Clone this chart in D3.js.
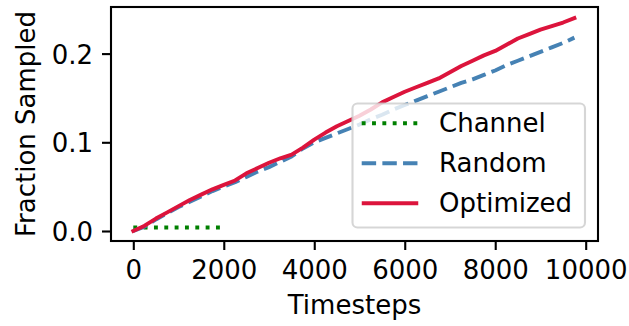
<!DOCTYPE html>
<html>
<head>
<meta charset="utf-8">
<script src="https://cdn.jsdelivr.net/npm/d3@7"></script>
<style>
  body { margin: 0; background: #fff; }
  text { font-family: "DejaVu Sans", sans-serif; fill: #000; }
</style>
</head>
<body>
<script>
var w = 629,
    h = 326;
    fontSize = 26;
    lineWidth = 3.9;

// data
const timesteps = d3.range(0, 10000, 250);

const optimized = [0, 0.006, 0.014, 0.021, 0.028, 0.035, 0.041, 0.047, 0.052, 0.057,
    0.065, 0.071, 0.077, 0.082, 0.086, 0.094, 0.103, 0.111, 0.118, 0.124,
    0.130, 0.137, 0.145, 0.151, 0.157, 0.162, 0.167, 0.172, 0.179, 0.186,
    0.192, 0.198, 0.203, 0.210, 0.217, 0.222, 0.227, 0.231, 0.235, 0.240];

const random = [0, 0.005, 0.013, 0.020, 0.027, 0.033, 0.039, 0.045, 0.050, 0.055,
    0.061, 0.067, 0.072, 0.078, 0.084, 0.093, 0.100, 0.105, 0.110, 0.115,
    0.120, 0.126, 0.131, 0.137, 0.142, 0.147, 0.152, 0.157, 0.162, 0.167,
    0.171, 0.176, 0.181, 0.187, 0.192, 0.197, 0.202, 0.207, 0.212, 0.218];

const channelSteps = [0, 500, 1000, 1500, 2000];
const channel = [0.004, 0.004, 0.004, 0.004, 0.004];

const xTicks = [0, 2000, 4000, 6000, 8000, 10000];
const yTicks = [0.0, 0.1, 0.2];

const seriesNames = ["Channel", "Random", "Optimized"];
const seriesColors = ["green", "steelblue", "crimson"];
const seriesDashes = [
    (lineWidth * 1) + "," + (lineWidth * 1.65),
    (lineWidth * 3.7) + "," + (lineWidth * 1.6),
    null];

// plot box
var box = {left: 111, right: 598, top: 7, bottom: 241};

var x = d3.scaleLinear().domain([0, 10000]).range([133.3, 585.7]);
var y = d3.scaleLinear().domain([0, 0.2]).range([231, 53.6]);

var svg = d3.select("body").append("svg")
    .attr("width", w)
    .attr("height", h);

const line = d3.line()
    .x((d) => x(d[0]))
    .y((d) => y(d[1]));

const series = [
    d3.zip(channelSteps, channel),
    d3.zip(timesteps, random),
    d3.zip(timesteps, optimized)
];

svg.selectAll("path.series")
    .data(series)
    .enter().append("path")
    .attr("class", "series")
    .attr("d", line)
    .attr("fill", "none")
    .attr("stroke", (d, i) => seriesColors[i])
    .attr("stroke-width", lineWidth)
    .attr("stroke-dasharray", (d, i) => seriesDashes[i])
    .attr("stroke-linecap", (d, i) => seriesDashes[i] ? "butt" : "square")
    .attr("stroke-linejoin", "round");

// spines
svg.append("rect")
    .attr("x", box.left)
    .attr("y", box.top)
    .attr("width", box.right - box.left)
    .attr("height", box.bottom - box.top)
    .attr("fill", "none")
    .attr("stroke", "#000")
    .attr("stroke-width", 2.1);

// x axis
var xAxis = svg.append("g")
    .attr("transform", "translate(0," + box.bottom + ")")
    .call(d3.axisBottom(x).tickValues(xTicks).tickSize(9).tickPadding(9).tickFormat(d3.format("d")));
xAxis.select(".domain").remove();
xAxis.selectAll(".tick line").attr("stroke-width", 2.1);
xAxis.selectAll(".tick text")
    .attr("font-size", fontSize)
    .attr("font-family", "DejaVu Sans")
    .attr("dy", null)
    .attr("y", 38);

// y axis
var yAxis = svg.append("g")
    .attr("transform", "translate(" + box.left + ",0)")
    .call(d3.axisLeft(y).tickValues(yTicks).tickSize(9).tickPadding(9).tickFormat(d3.format(".1f")));
yAxis.select(".domain").remove();
yAxis.selectAll(".tick line").attr("stroke-width", 2.1);
yAxis.selectAll(".tick text")
    .attr("font-size", fontSize)
    .attr("font-family", "DejaVu Sans")
    .attr("dy", null)
    .attr("y", 9.5);

svg.append("text")
    .attr("x", (box.left + box.right) / 2)
    .attr("y", 314)
    .attr("text-anchor", "middle")
    .attr("font-size", fontSize)
    .text("Timesteps");

svg.append("text")
    .attr("transform", "translate(35," + ((box.top + box.bottom) / 2) + ") rotate(-90)")
    .attr("text-anchor", "middle")
    .attr("font-size", fontSize)
    .text("Fraction Sampled");

// legend
var legend = svg.append("g");

legend.append("rect")
    .attr("x", 352.5)
    .attr("y", 103.5)
    .attr("width", 232.5)
    .attr("height", 124)
    .attr("rx", 5)
    .attr("fill", "#fff")
    .attr("fill-opacity", 0.8)
    .attr("stroke", "#ccc")
    .attr("stroke-opacity", 0.8)
    .attr("stroke-width", 2.1);

var rows = legend.selectAll("g.row")
    .data(seriesNames)
    .enter().append("g")
    .attr("class", "row")
    .attr("transform", (d, i) => "translate(0," + (123.3 + i * 40) + ")");

rows.append("line")
    .attr("x1", (d, i) => seriesDashes[i] ? 361.7 : 363.7)
    .attr("x2", (d, i) => seriesDashes[i] ? 418.3 : 416.3)
    .attr("stroke", (d, i) => seriesColors[i])
    .attr("stroke-width", lineWidth)
    .attr("stroke-dasharray", (d, i) => seriesDashes[i])
    .attr("stroke-linecap", (d, i) => seriesDashes[i] ? "butt" : "square");

rows.append("text")
    .attr("x", 439)
    .attr("y", 9)
    .attr("font-size", fontSize)
    .text((d) => d);
</script>
</body>
</html>
